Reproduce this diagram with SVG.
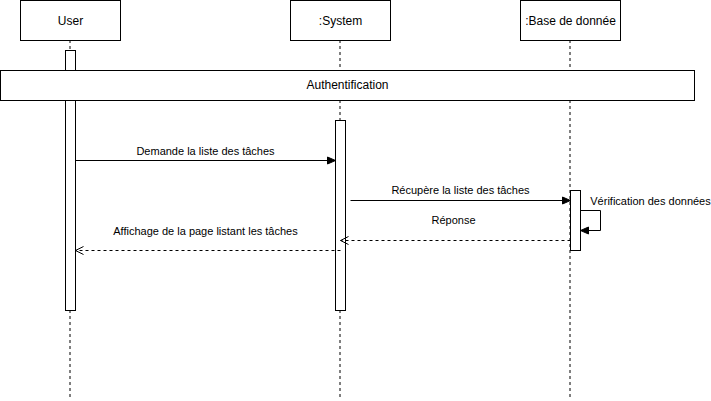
<svg xmlns="http://www.w3.org/2000/svg" width="711" height="401" viewBox="0 0 711 401">
<style>
.box{fill:#fff;stroke:#000;stroke-width:1}
.life{stroke:#000;stroke-width:1;stroke-dasharray:3 3;fill:none}
.t{font-family:"Liberation Sans",Arial,sans-serif;font-size:12px;fill:#000;text-anchor:middle}
.m{font-family:"Liberation Sans",Arial,sans-serif;font-size:11px;fill:#000;text-anchor:middle}
.msg{stroke:#000;stroke-width:1;fill:none}
.ret{stroke:#000;stroke-width:1;fill:none;stroke-dasharray:3 3}
</style>
<defs>
<marker id="fa" markerWidth="10" markerHeight="10" refX="9" refY="5" orient="auto" markerUnits="userSpaceOnUse">
<path d="M1,1.5 L9,5 L1,8.5 Z" fill="#000" stroke="#000"/>
</marker>
<marker id="oa" markerWidth="10" markerHeight="10" refX="9" refY="5" orient="auto" markerUnits="userSpaceOnUse">
<path d="M1,1 L9,5 L1,9" fill="none" stroke="#000"/>
</marker>
</defs>
<rect width="711" height="401" fill="#fff"/>
<g id="lifelines">
<line class="life" x1="70" y1="40" x2="70" y2="400"/>
<line class="life" x1="340" y1="40" x2="340" y2="400"/>
<line class="life" x1="570" y1="40" x2="570" y2="400"/>
</g>
<g id="user">
<rect class="box" x="20.5" y="0.5" width="100" height="40"/>
<text class="t" x="70.5" y="25">User</text>
<rect class="box" x="65.5" y="50.5" width="10" height="260"/>
</g>
<g id="system">
<rect class="box" x="290.5" y="0.5" width="100" height="40"/>
<text class="t" x="340.5" y="25">:System</text>
<rect class="box" x="335.5" y="120.5" width="10" height="190"/>
</g>
<g id="database">
<rect class="box" x="520.5" y="0.5" width="100" height="40"/>
<text class="t" x="570.5" y="25">:Base de donnée</text>
<rect class="box" x="570.5" y="190.5" width="10" height="60"/>
</g>
<g id="auth">
<rect class="box" x="0.5" y="70.5" width="694" height="30"/>
<text class="t" x="347.5" y="89">Authentification</text>
</g>
<g id="connectors">
<line class="msg" x1="75.5" y1="160.5" x2="335.5" y2="160.5" marker-end="url(#fa)"/>
<text class="m" x="205.5" y="155">Demande la liste des tâches</text>
<line class="msg" x1="350.5" y1="200.5" x2="570.5" y2="200.5" marker-end="url(#fa)"/>
<text class="m" x="460.5" y="194">Récupère la liste des tâches</text>
<polyline class="msg" points="580.5,210.5 600.5,210.5 600.5,230.5 580.5,230.5" marker-end="url(#fa)"/>
<text class="m" x="650.5" y="205">Vérification des données</text>
<line class="ret" x1="570.5" y1="240.5" x2="340.5" y2="240.5" marker-end="url(#oa)"/>
<text class="m" x="453.5" y="224">Réponse</text>
<line class="ret" x1="340.5" y1="250.5" x2="75.5" y2="250.5" marker-end="url(#oa)"/>
<text class="m" x="205.5" y="235">Affichage de la page listant les tâches</text>
</g>
</svg>
